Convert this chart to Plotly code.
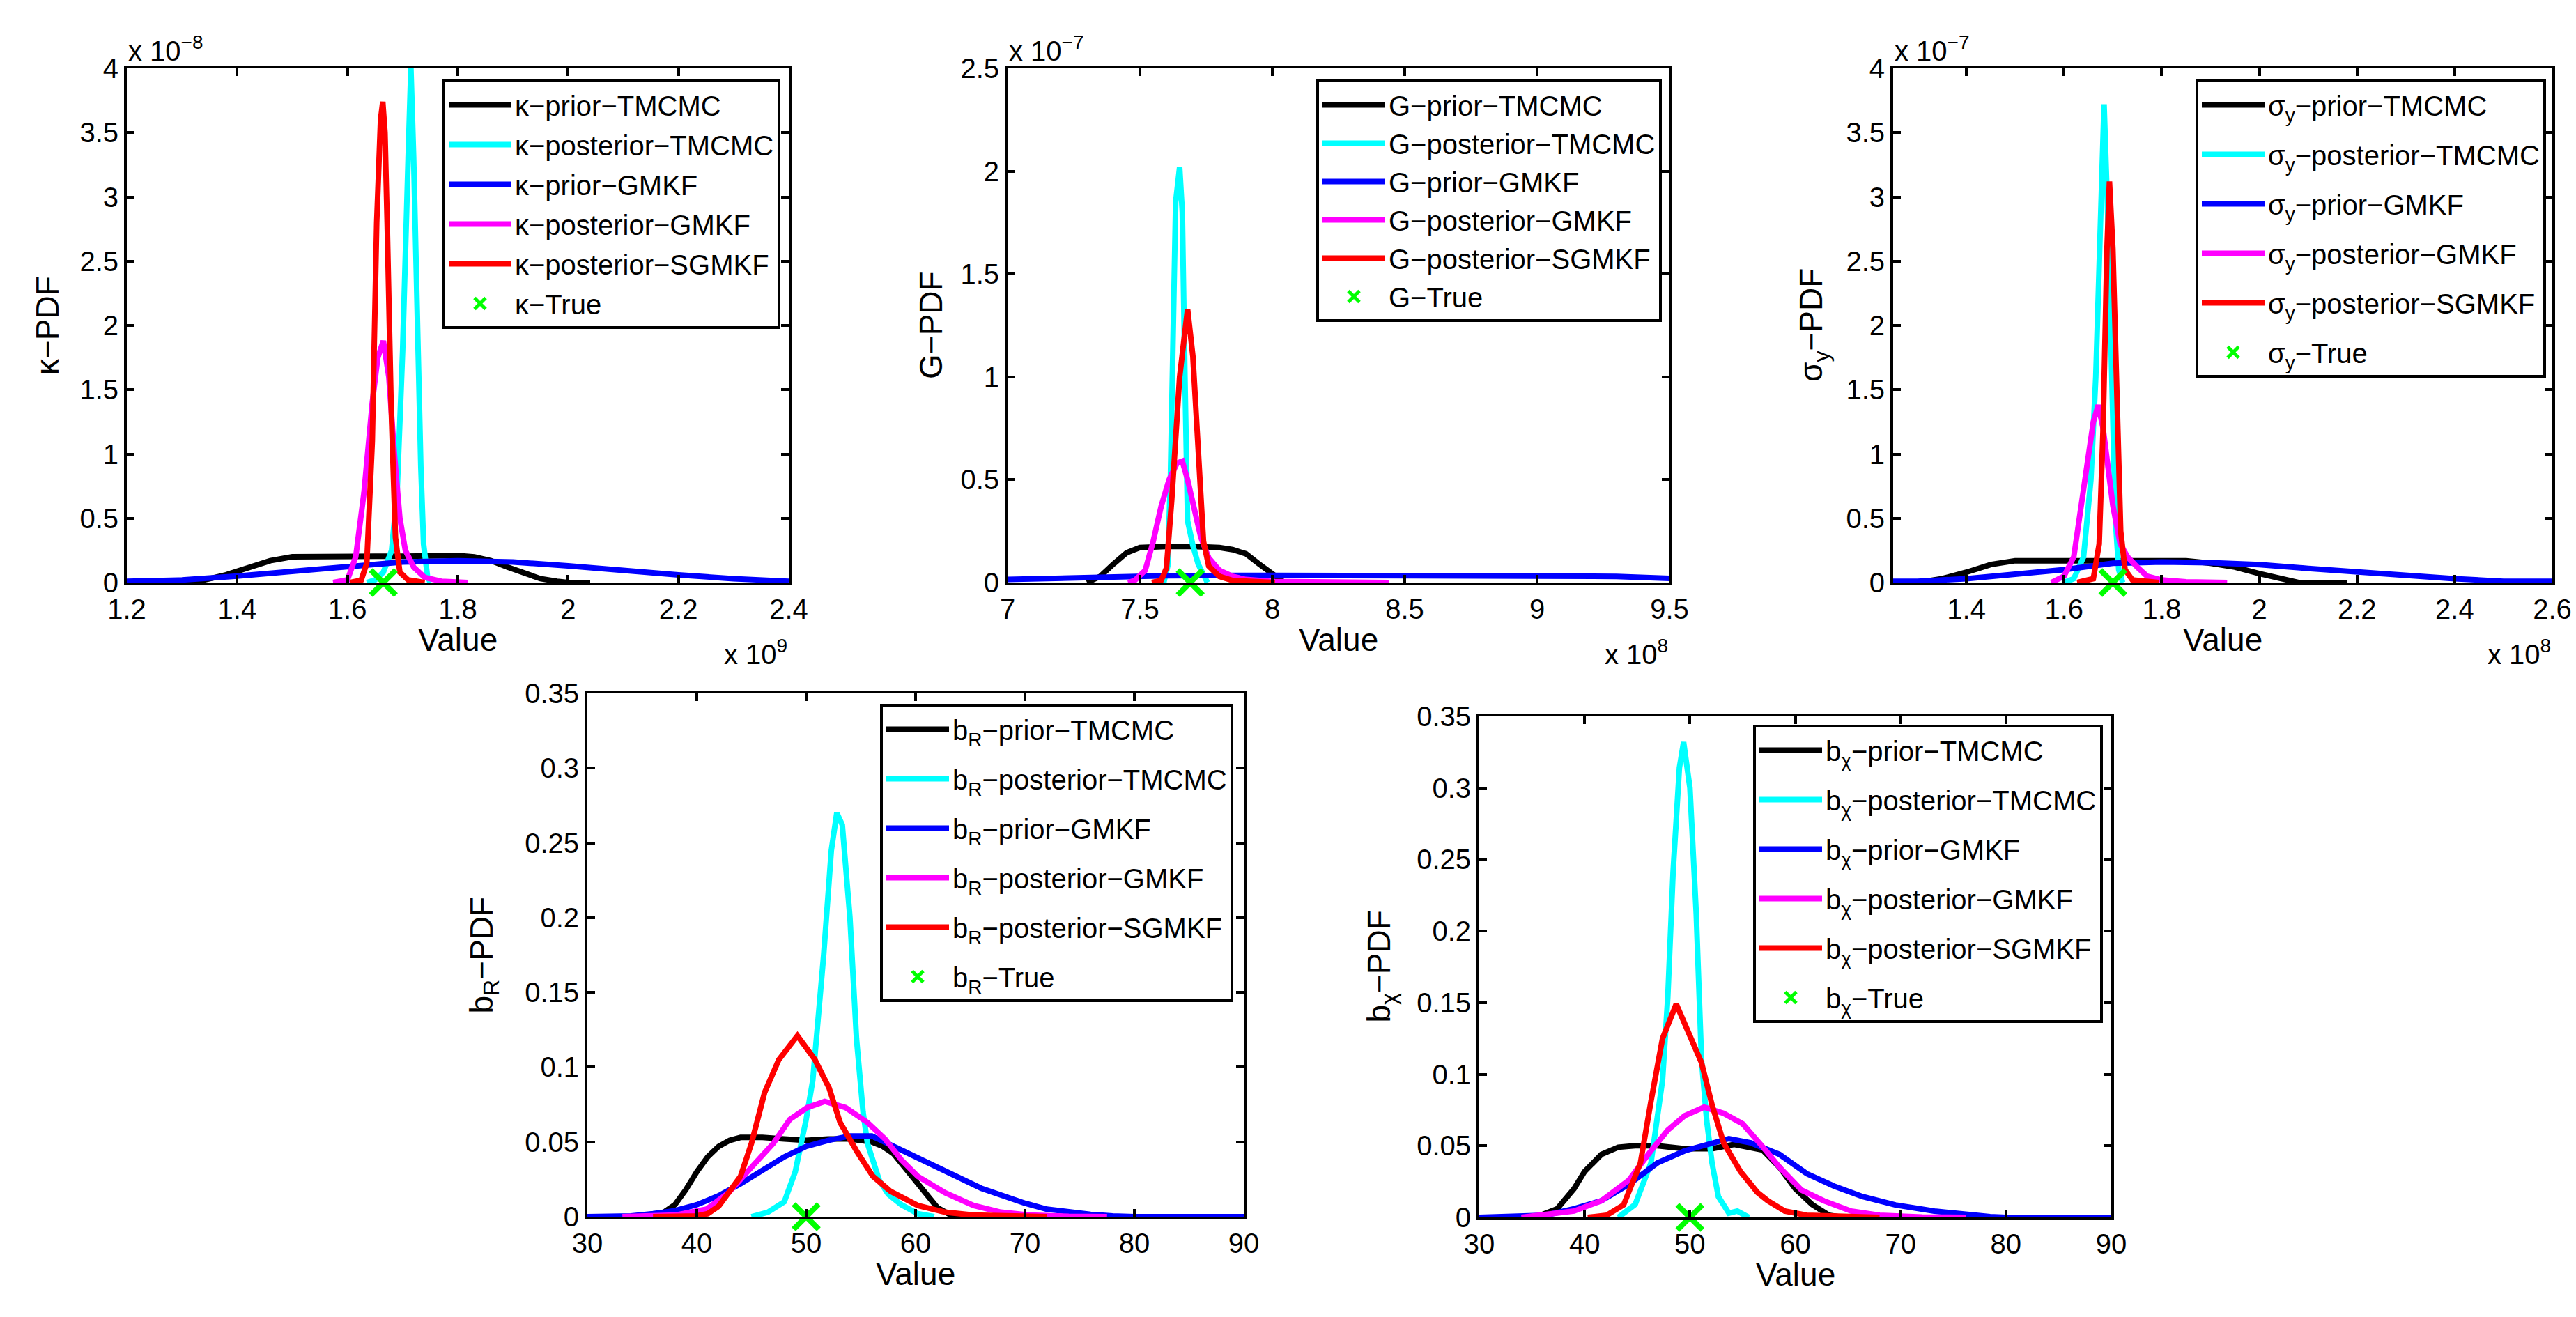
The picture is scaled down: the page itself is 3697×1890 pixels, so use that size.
import plotly.graph_objects as go

W, H = 3697, 1890
FONT = "Liberation Sans"

# ---------------- data (values in the units shown on the axes) ----------------
# Panel 1: kappa  (x in 1e9, pdf in 1e-8)
k_prior_tmcmc_x = [1.30, 1.34, 1.38, 1.42, 1.46, 1.50, 1.55, 1.60, 1.65, 1.70, 1.75, 1.80, 1.83, 1.86, 1.89, 1.92, 1.95, 1.98, 2.00, 2.04]
k_prior_tmcmc_y = [0.0, 0.02, 0.06, 0.12, 0.17, 0.20, 0.205, 0.205, 0.205, 0.205, 0.21, 0.21, 0.20, 0.17, 0.12, 0.07, 0.03, 0.01, 0.0, 0.0]
k_post_tmcmc_x = [1.635, 1.65, 1.665, 1.68, 1.69, 1.70, 1.71, 1.715, 1.72, 1.727, 1.733, 1.738, 1.745, 1.75]
k_post_tmcmc_y = [0.0, 0.02, 0.08, 0.25, 0.7, 1.8, 3.3, 4.0, 3.3, 1.9, 0.9, 0.3, 0.05, 0.0]
k_prior_gmkf_x = [1.2, 1.3, 1.4, 1.5, 1.6, 1.7, 1.8, 1.9, 2.0, 2.1, 2.2, 2.3, 2.4]
k_prior_gmkf_y = [0.01, 0.02, 0.05, 0.09, 0.13, 0.16, 0.17, 0.16, 0.13, 0.09, 0.06, 0.03, 0.01]
k_post_gmkf_x = [1.574, 1.60, 1.615, 1.63, 1.645, 1.655, 1.665, 1.675, 1.685, 1.695, 1.705, 1.72, 1.74, 1.77, 1.818]
k_post_gmkf_y = [0.0, 0.02, 0.2, 0.7, 1.4, 1.75, 1.88, 1.6, 1.0, 0.5, 0.25, 0.12, 0.04, 0.01, 0.0]
k_post_sgmkf_x = [1.605, 1.625, 1.635, 1.645, 1.653, 1.66, 1.664, 1.668, 1.672, 1.679, 1.687, 1.695, 1.71, 1.74]
k_post_sgmkf_y = [0.0, 0.02, 0.15, 1.1, 2.8, 3.6, 3.74, 3.5, 2.8, 1.4, 0.35, 0.08, 0.02, 0.0]
k_true = 1.665

# Panel 2: G  (x in 1e8, pdf in 1e-7)
g_prior_tmcmc_x = [7.30, 7.35, 7.40, 7.45, 7.50, 7.55, 7.60, 7.70, 7.80, 7.85, 7.90, 7.95, 8.00, 8.04, 8.05]
g_prior_tmcmc_y = [0.0, 0.03, 0.09, 0.145, 0.17, 0.175, 0.175, 0.175, 0.17, 0.16, 0.14, 0.09, 0.04, 0.005, 0.0]
g_post_tmcmc_x = [7.59, 7.605, 7.615, 7.625, 7.635, 7.65, 7.66, 7.67, 7.68, 7.70, 7.72, 7.755]
g_post_tmcmc_y = [0.0, 0.08, 0.5, 1.3, 1.85, 2.02, 1.8, 1.0, 0.3, 0.18, 0.09, 0.0]
g_prior_gmkf_x = [7.0, 7.2, 7.4, 7.6, 8.0, 8.5, 8.8, 9.0, 9.3, 9.5]
g_prior_gmkf_y = [0.015, 0.02, 0.03, 0.033, 0.035, 0.035, 0.035, 0.032, 0.03, 0.02]
g_post_gmkf_x = [7.455, 7.48, 7.52, 7.55, 7.58, 7.61, 7.64, 7.66, 7.68, 7.70, 7.73, 7.76, 7.80, 7.85, 7.90, 8.00, 8.44]
g_post_gmkf_y = [0.0, 0.01, 0.06, 0.2, 0.37, 0.5, 0.58, 0.59, 0.5, 0.38, 0.22, 0.12, 0.06, 0.03, 0.015, 0.005, 0.0]
g_post_sgmkf_x = [7.545, 7.58, 7.60, 7.62, 7.65, 7.68, 7.70, 7.72, 7.74, 7.76, 7.80, 7.85, 8.01]
g_post_sgmkf_y = [0.0, 0.01, 0.07, 0.4, 1.0, 1.33, 1.1, 0.6, 0.2, 0.08, 0.03, 0.01, 0.0]
g_true = 7.69

# Panel 3: sigma_y  (x in 1e8, pdf in 1e-7)
s_prior_tmcmc_x = [1.30, 1.35, 1.40, 1.45, 1.50, 1.60, 1.70, 1.80, 1.85, 1.90, 1.95, 2.00, 2.05, 2.08, 2.18]
s_prior_tmcmc_y = [0.0, 0.03, 0.08, 0.14, 0.17, 0.17, 0.175, 0.17, 0.17, 0.15, 0.12, 0.07, 0.02, 0.0, 0.0]
s_post_tmcmc_x = [1.60, 1.62, 1.64, 1.655, 1.665, 1.675, 1.682, 1.69, 1.698, 1.705, 1.712, 1.72]
s_post_tmcmc_y = [0.0, 0.03, 0.2, 0.8, 1.6, 2.9, 3.72, 2.8, 1.4, 0.5, 0.1, 0.0]
s_prior_gmkf_x = [1.25, 1.3, 1.4, 1.5, 1.6, 1.7, 1.8, 1.9, 2.0, 2.1, 2.2, 2.3, 2.4, 2.5, 2.6]
s_prior_gmkf_y = [0.01, 0.01, 0.03, 0.06, 0.1, 0.15, 0.16, 0.155, 0.14, 0.11, 0.08, 0.05, 0.03, 0.01, 0.01]
s_post_gmkf_x = [1.574, 1.60, 1.62, 1.635, 1.65, 1.66, 1.67, 1.68, 1.69, 1.70, 1.715, 1.73, 1.75, 1.77, 1.80, 1.85, 1.934]
s_post_gmkf_y = [0.0, 0.05, 0.2, 0.6, 1.0, 1.25, 1.38, 1.2, 0.9, 0.6, 0.3, 0.2, 0.12, 0.05, 0.02, 0.005, 0.0]
s_post_sgmkf_x = [1.627, 1.66, 1.672, 1.68, 1.688, 1.693, 1.70, 1.708, 1.716, 1.725, 1.74, 1.794]
s_post_sgmkf_y = [0.0, 0.03, 0.3, 1.2, 2.6, 3.12, 2.6, 1.3, 0.4, 0.1, 0.02, 0.0]
s_true = 1.70

# Panel 4: b_R
br_prior_tmcmc_x = [36, 37, 38, 39, 40, 41, 42, 43, 44, 46, 48, 50, 52, 54, 56, 57, 58, 59, 60, 61, 62, 63, 64, 65]
br_prior_tmcmc_y = [0.0, 0.003, 0.008, 0.018, 0.03, 0.04, 0.047, 0.051, 0.053, 0.053, 0.052, 0.051, 0.052, 0.052, 0.05, 0.047, 0.042, 0.033, 0.023, 0.014, 0.006, 0.002, 0.0, 0.0]
br_post_tmcmc_x = [45, 46.5, 48, 49, 50, 50.6, 51.6, 52.3, 52.8, 53.3, 54, 54.6, 55.2, 55.6, 56.7, 57.5, 58.7, 60.2, 61.7]
br_post_tmcmc_y = [0.0, 0.003, 0.01, 0.03, 0.065, 0.091, 0.175, 0.245, 0.27, 0.262, 0.2, 0.119, 0.07, 0.049, 0.024, 0.015, 0.008, 0.002, 0.0]
br_prior_gmkf_x = [30, 34, 36, 38, 40, 42, 44, 46, 48, 50, 52, 54, 56, 58, 60, 62, 64, 66, 68, 70, 72, 74, 76, 78, 80, 90]
br_prior_gmkf_y = [0.0, 0.0005, 0.002, 0.004, 0.008, 0.014, 0.022, 0.031, 0.04, 0.047, 0.051, 0.054, 0.054, 0.047, 0.04, 0.033, 0.026, 0.019, 0.014, 0.009, 0.005, 0.003, 0.0015, 0.0005, 0.0, 0.0]
br_post_gmkf_x = [33.2, 38, 40.9, 42.9, 45, 47, 48.5, 50.1, 51.7, 53.6, 55.6, 57.2, 58.7, 60.2, 62.7, 65.3, 67.8, 70.4, 74, 77.5]
br_post_gmkf_y = [0.0, 0.001, 0.005, 0.016, 0.033, 0.049, 0.065, 0.073, 0.077, 0.073, 0.063, 0.052, 0.038, 0.027, 0.016, 0.0075, 0.003, 0.001, 0.0002, 0.0]
br_post_sgmkf_x = [36, 40, 41, 42, 43, 44, 45, 46.2, 47.5, 49.2, 50.8, 52.1, 53.1, 54.6, 56.1, 57.7, 60.2, 62.7, 65.3, 68, 72]
br_post_sgmkf_y = [0.0, 0.0005, 0.002, 0.007, 0.017, 0.027, 0.049, 0.083, 0.105, 0.121, 0.105, 0.086, 0.063, 0.044, 0.027, 0.017, 0.0075, 0.003, 0.001, 0.0003, 0.0]
br_true = 50

# Panel 5: b_chi
bc_prior_tmcmc_x = [35.3, 37.4, 39, 40, 41.6, 43.2, 44.8, 46.9, 49.5, 52.1, 54.2, 56.9, 58.5, 60, 61.6, 63.2, 64.5]
bc_prior_tmcmc_y = [0.0, 0.006, 0.02, 0.032, 0.044, 0.049, 0.05, 0.05, 0.048, 0.048, 0.051, 0.047, 0.035, 0.02, 0.009, 0.0015, 0.0]
bc_post_tmcmc_x = [43.2, 44.8, 46.3, 47.4, 47.9, 48.4, 49.0, 49.4, 50.0, 50.6, 51.1, 51.6, 52.1, 52.7, 53.7, 54.5, 55.6]
bc_post_tmcmc_y = [0.0, 0.009, 0.038, 0.096, 0.154, 0.241, 0.314, 0.332, 0.3, 0.212, 0.11, 0.067, 0.038, 0.0145, 0.003, 0.0044, 0.0]
bc_prior_gmkf_x = [30, 34, 36.3, 39, 41.6, 44.2, 46.9, 49.5, 52.1, 53.7, 55.8, 58.5, 61.1, 63.7, 66.4, 69.5, 73.2, 75.9, 78.5, 80, 90]
bc_prior_gmkf_y = [0.0, 0.0005, 0.0015, 0.006, 0.0116, 0.023, 0.038, 0.0465, 0.052, 0.055, 0.052, 0.044, 0.0305, 0.0218, 0.0145, 0.0087, 0.0044, 0.002, 0.0005, 0.0, 0.0]
bc_post_gmkf_x = [34, 39, 41.6, 44.2, 46.3, 47.9, 49.5, 51.35, 53.2, 55, 56.9, 58.5, 60.6, 62.7, 65.3, 68, 72, 76.2]
bc_post_gmkf_y = [0.0, 0.0044, 0.0116, 0.026, 0.0465, 0.061, 0.071, 0.077, 0.0727, 0.0654, 0.0494, 0.035, 0.019, 0.0116, 0.0044, 0.0015, 0.0003, 0.0]
bc_post_sgmkf_x = [40.3, 42.1, 43.7, 45.3, 46.3, 47.4, 48.7, 50.0, 51.1, 52.1, 53.2, 54.8, 56.4, 57.4, 59.0, 61.1, 68]
bc_post_sgmkf_y = [0.0, 0.0015, 0.0087, 0.038, 0.081, 0.125, 0.149, 0.128, 0.108, 0.0785, 0.052, 0.032, 0.0175, 0.0116, 0.0044, 0.0015, 0.0]
bc_true = 50

# labels
series_suffix = ["prior−TMCMC", "posterior−TMCMC", "prior−GMKF", "posterior−GMKF", "posterior−SGMKF"]
series_colors = ["#000000", "#00ffff", "#0000ff", "#ff00ff", "#ff0000"]
true_color = "#00ff00"

panels = [
    dict(sym="κ", ylab="κ−PDF",
         xs=[k_prior_tmcmc_x, k_post_tmcmc_x, k_prior_gmkf_x, k_post_gmkf_x, k_post_sgmkf_x],
         ys=[k_prior_tmcmc_y, k_post_tmcmc_y, k_prior_gmkf_y, k_post_gmkf_y, k_post_sgmkf_y],
         true=k_true, xr=[1.2, 2.4], xt=[1.2, 1.4, 1.6, 1.8, 2.0, 2.2, 2.4],
         yr=[0, 4], yt=[0, 0.5, 1, 1.5, 2, 2.5, 3, 3.5, 4], xexp="9", yexp="−8",
         box=(182, 98, 1132, 836), leg=(1120, 114), gap=2, ytx=68),
    dict(sym="G", ylab="G−PDF",
         xs=[g_prior_tmcmc_x, g_post_tmcmc_x, g_prior_gmkf_x, g_post_gmkf_x, g_post_sgmkf_x],
         ys=[g_prior_tmcmc_y, g_post_tmcmc_y, g_prior_gmkf_y, g_post_gmkf_y, g_post_sgmkf_y],
         true=g_true, xr=[7, 9.5], xt=[7, 7.5, 8, 8.5, 9, 9.5],
         yr=[0, 2.5], yt=[0, 0.5, 1, 1.5, 2, 2.5], xexp="8", yexp="−7",
         box=(1446, 98, 2396, 836), leg=(2385, 114), gap=0, ytx=1336),
    dict(sym="σ<sub>y</sub>", ylab="σ<sub>y</sub>−PDF",
         xs=[s_prior_tmcmc_x, s_post_tmcmc_x, s_prior_gmkf_x, s_post_gmkf_x, s_post_sgmkf_x],
         ys=[s_prior_tmcmc_y, s_post_tmcmc_y, s_prior_gmkf_y, s_post_gmkf_y, s_post_sgmkf_y],
         true=s_true, xr=[1.25, 2.6], xt=[1.4, 1.6, 1.8, 2.0, 2.2, 2.4, 2.6],
         yr=[0, 4], yt=[0, 0.5, 1, 1.5, 2, 2.5, 3, 3.5, 4], xexp="8", yexp="−7",
         box=(2717, 98, 3663, 836), leg=(3654, 114), gap=16, ytx=2603),
    dict(sym="b<sub>R</sub>", ylab="b<sub>R</sub>−PDF",
         xs=[br_prior_tmcmc_x, br_post_tmcmc_x, br_prior_gmkf_x, br_post_gmkf_x, br_post_sgmkf_x],
         ys=[br_prior_tmcmc_y, br_post_tmcmc_y, br_prior_gmkf_y, br_post_gmkf_y, br_post_sgmkf_y],
         true=br_true, xr=[30, 90], xt=[30, 40, 50, 60, 70, 80, 90],
         yr=[0, 0.35], yt=[0, 0.05, 0.1, 0.15, 0.2, 0.25, 0.3, 0.35], xexp=None, yexp=None,
         box=(843, 995, 1785, 1746), leg=(1770, 1010), gap=16, ytx=694),
    dict(sym="b<sub>χ</sub>", ylab="b<sub>χ</sub>−PDF",
         xs=[bc_prior_tmcmc_x, bc_post_tmcmc_x, bc_prior_gmkf_x, bc_post_gmkf_x, bc_post_sgmkf_x],
         ys=[bc_prior_tmcmc_y, bc_post_tmcmc_y, bc_prior_gmkf_y, bc_post_gmkf_y, bc_post_sgmkf_y],
         true=bc_true, xr=[30, 90], xt=[30, 40, 50, 60, 70, 80, 90],
         yr=[0, 0.35], yt=[0, 0.05, 0.1, 0.15, 0.2, 0.25, 0.3, 0.35], xexp=None, yexp=None,
         box=(2123, 1028, 3030, 1747), leg=(3018, 1040), gap=16, ytx=1982),
]

fig = go.Figure()
layout = dict(
    width=W, height=H, margin=dict(l=0, r=0, t=0, b=0, pad=0, autoexpand=False),
    paper_bgcolor="white", plot_bgcolor="white",
    font=dict(family=FONT, size=40, color="black"),
    showlegend=True, annotations=[],
)

def px_x(v):
    return v / W

def px_y(v):
    return 1 - v / H

for i, p in enumerate(panels, start=1):
    sfx = "" if i == 1 else str(i)
    xa, ya = "x" + sfx, "y" + sfx
    leg = "legend" + sfx
    for j, (name_sfx, color, xv, yv) in enumerate(zip(series_suffix, series_colors, p["xs"], p["ys"])):
        fig.add_trace(go.Scatter(
            x=xv, y=yv, mode="lines", name=p["sym"] + "−" + name_sfx,
            line=dict(color=color, width=8), xaxis=xa, yaxis=ya, legend=leg,
            legendgroup="p%d_s%d" % (i, j),
        ))
    fig.add_trace(go.Scatter(
        x=[p["true"]], y=[0], mode="markers", name=p["sym"] + "−True",
        marker=dict(symbol="x-thin", size=36, color=true_color,
                    line=dict(color=true_color, width=8)),
        cliponaxis=False, xaxis=xa, yaxis=ya, legend=leg,
        legendgroup="p%d_true" % i,
    ))
    l, t, r, b = p["box"]
    axcommon = dict(showline=True, linecolor="black", linewidth=4, mirror="ticks",
                    ticks="inside", ticklen=11, tickwidth=4, tickcolor="black",
                    showgrid=False, zeroline=False, automargin=False,
                    tickfont=dict(family=FONT, size=40, color="black"))
    layout["xaxis" + sfx] = dict(domain=[px_x(l), px_x(r)], range=p["xr"], tickvals=p["xt"],
                                 anchor=ya, **axcommon)
    layout["yaxis" + sfx] = dict(domain=[px_y(b), px_y(t)], range=p["yr"], tickvals=p["yt"],
                                 anchor=xa, **axcommon)
    lx, ly = p["leg"]
    layout[leg] = dict(x=px_x(lx), y=px_y(ly), xanchor="right", yanchor="top",
                       xref="paper", yref="paper",
                       bgcolor="white", bordercolor="black", borderwidth=4,
                       font=dict(family=FONT, size=40, color="black"),
                       itemwidth=90, traceorder="grouped", tracegroupgap=p["gap"])
    # axis titles
    layout["annotations"].append(dict(
        text="Value", x=px_x((l + r) / 2), y=px_y(b + 82), xref="paper", yref="paper",
        xanchor="center", yanchor="middle", showarrow=False,
        font=dict(family=FONT, size=46, color="black")))
    layout["annotations"].append(dict(
        text=p["ylab"], x=px_x(p["ytx"]), y=px_y((t + b) / 2), xref="paper", yref="paper",
        xanchor="center", yanchor="middle", textangle=-90, showarrow=False,
        font=dict(family=FONT, size=46, color="black")))
    if p["yexp"]:
        layout["annotations"].append(dict(
            text="x 10<sup>" + p["yexp"] + "</sup>", x=px_x(l), y=px_y(t - 28),
            xref="paper", yref="paper", xanchor="left", yanchor="middle",
            showarrow=False, font=dict(family=FONT, size=40, color="black")))
    if p["xexp"]:
        layout["annotations"].append(dict(
            text="x 10<sup>" + p["xexp"] + "</sup>", x=px_x(r), y=px_y(b + 100),
            xref="paper", yref="paper", xanchor="right", yanchor="middle",
            showarrow=False, font=dict(family=FONT, size=40, color="black")))

fig.update_layout(**layout)
fig.write_html("out.html", config={"displayModeBar": False},
               post_script="document.body.style.margin='0';")
